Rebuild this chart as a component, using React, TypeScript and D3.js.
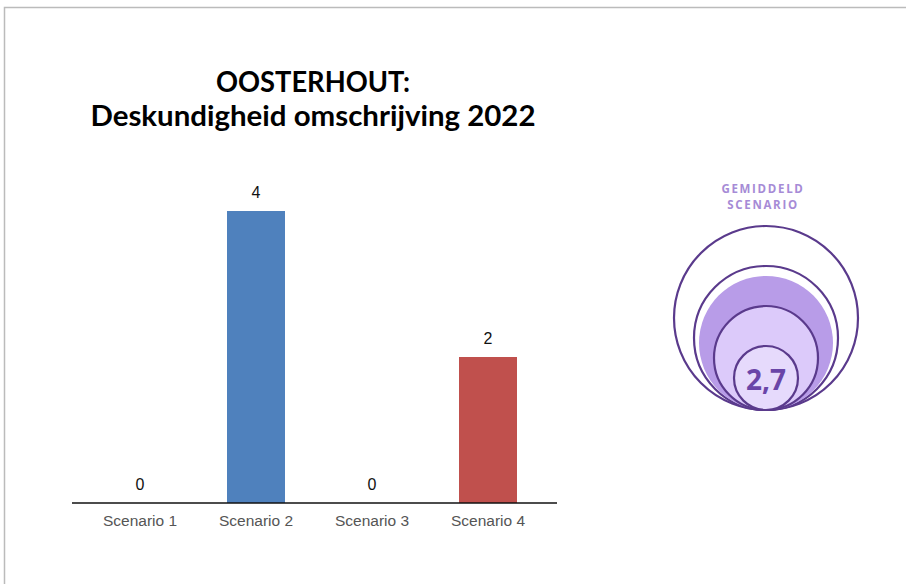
import React from "react";
import * as d3 from "d3";

const categories = ["Scenario 1", "Scenario 2", "Scenario 3", "Scenario 4"];
const counts = [0, 4, 0, 2];
const barColors = ["#4f81bd", "#4f81bd", "#4f81bd", "#c0504d"];
const titleLines = ["OOSTERHOUT:", "Deskundigheid omschrijving 2022"];
const titleWidths = [194, 445];
const badgeLines = ["GEMIDDELD", "SCENARIO"];

const W = 906;
const H = 584;

export default function App() {
  const x = d3.scaleBand<string>().domain(categories).range([82, 546]).paddingInner(0.5).paddingOuter(0.25);
  const y = d3.scaleLinear().domain([0, 4]).range([503, 211]);

  const total = d3.sum(counts);
  const avg = d3.sum(counts, (c, i) => c * (i + 1)) / total;
  const avgText = d3.format(".1f")(avg).replace(".", ",");

  const cx = 766;
  const bottom = 410;
  const rings = [
    { r: 92, fill: "#ffffff", stroke: "#5a3a8c" },
    { r: 72, fill: "#ffffff", stroke: "#5a3a8c" },
    { r: 67, fill: "#b89ce8", stroke: "none" },
    { r: 52, fill: "#dccafa", stroke: "#5a3a8c" },
    { r: 32, fill: "#e6dafc", stroke: "#5a3a8c" },
  ];

  return (
    <div style={{ position: "absolute", left: 0, top: 0 }}>
      <svg width={W} height={H} style={{ display: "block", background: "#fff" }}>
        <rect x={4.5} y={7.5} width={W + 10} height={H + 10} fill="#fff" stroke="#bbbbbb" strokeWidth={1.5} />
        {titleLines.map((t, i) => (
          <text key={t} x={313} y={92 + i * 34} textAnchor="middle" textLength={titleWidths[i]} lengthAdjust="spacingAndGlyphs" fontFamily="Lato, 'Open Sans', sans-serif" fontWeight={700} fontSize={28} fill="#000">
            {t}
          </text>
        ))}
        {categories.map((c, i) => {
          const bx = x(c)!;
          const bw = x.bandwidth();
          return (
            <g key={c}>
              {counts[i] > 0 && (
                <rect x={bx} y={y(counts[i])} width={bw} height={y(0) - y(counts[i])} fill={barColors[i]} />
              )}
              <text x={bx + bw / 2} y={y(counts[i]) - 13} textAnchor="middle" fontFamily="'Liberation Sans', Arial, sans-serif" fontSize={16} fill="#111">
                {counts[i]}
              </text>
              <text x={bx + bw / 2} y={526} textAnchor="middle" fontFamily="'Liberation Sans', Arial, sans-serif" fontSize={15.5} fill="#555">
                {c}
              </text>
            </g>
          );
        })}
        <line x1={72} x2={557} y1={503} y2={503} stroke="#111" strokeWidth={1.6} />
        {badgeLines.map((t, i) => (
          <text key={t} x={763} y={193 + i * 16} textAnchor="middle" fontFamily="'Open Sans', sans-serif" fontWeight={700} fontSize={11.5} letterSpacing={1.7} fill="#a68bd6">
            {t}
          </text>
        ))}
        {rings.map((r, i) => (
          <circle key={i} cx={cx} cy={bottom - r.r} r={r.r} fill={r.fill} stroke={r.stroke} strokeWidth={2.2} />
        ))}
        <text x={cx} y={390} textAnchor="middle" fontFamily="'Open Sans', sans-serif" fontWeight={700} fontSize={28} fill="#6a45a8">
          {avgText}
        </text>
      </svg>
    </div>
  );
}
